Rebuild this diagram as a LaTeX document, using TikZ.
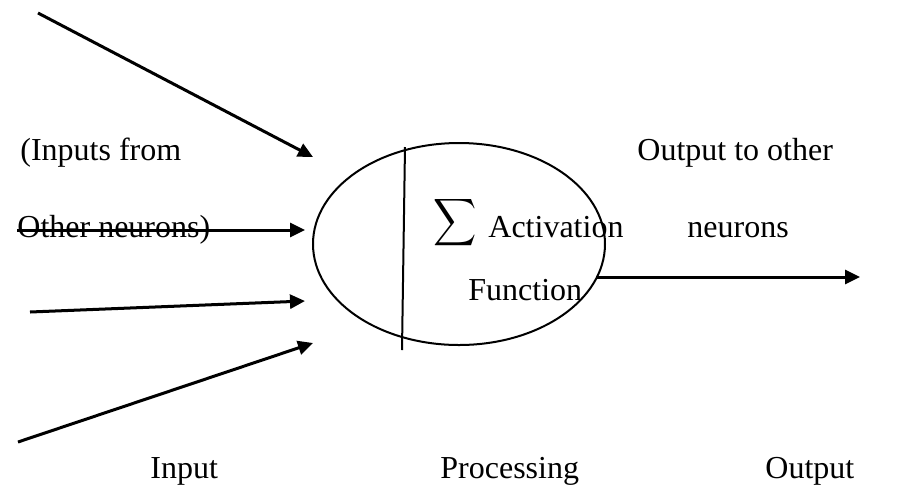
\documentclass[tikz,border=0pt]{standalone}
\usepackage{fontspec}
\setmainfont{Liberation Serif}
\usetikzlibrary{arrows.meta,shapes.geometric}

\tikzset{
  wire/.style={line width=1.5pt, -{Triangle[length=7.5pt,width=7pt]}},
  lbl/.style={anchor=base west, inner sep=0pt},
}

\begin{document}
\begin{tikzpicture}[x=0.5pt, y=-0.5pt, font=\fontsize{16}{19}\selectfont]
  \useasboundingbox (0,0) rectangle (902,495);

  %%%%% neuron body %%%%%
  \node[ellipse, draw, line width=1pt, minimum width=146pt, minimum height=101pt, inner sep=0pt] (cell) at (459,244) {};
  \coordinate (divtop) at (405,147);
  \coordinate (divbot) at (402,350);
  \draw[line width=1pt] (divtop) -- (divbot);

  \node[inner sep=0pt] (sigma) at (455,223) {\scalebox{1.5}[1.65]{$\displaystyle\sum$}};
  \node[lbl] (act) at (488,237) {Activation};
  \node[lbl] (func) at (468,300) {Function};

  %%%%% inputs %%%%%
  \node[lbl] (inA) at (20,160) {(Inputs from};
  \node[lbl] (inB) at (17,237) {Other neurons)};

  \coordinate (s1) at (38,13);   \coordinate (e1) at (313,157);
  \coordinate (s2) at (17,230);  \coordinate (e2) at (305,230);
  \coordinate (s3) at (30,312);  \coordinate (e3) at (305,301);
  \coordinate (s4) at (18,442);  \coordinate (e4) at (313,343);
  \draw[wire] (s1) -- (e1);
  \draw[wire] (s2) -- (e2);
  \draw[wire] (s3) -- (e3);
  \draw[wire] (s4) -- (e4);

  %%%%% output %%%%%
  \node[lbl] (outA) at (637,160) {Output to other};
  \node[lbl] (outB) at (687,237) {neurons};
  \coordinate (so) at (597,277); \coordinate (eo) at (860,277);
  \draw[wire] (so) -- (eo);

  %%%%% stage names %%%%%
  \node[lbl] (tIn) at (150,478) {Input};
  \node[lbl] (tProc) at (440,478) {Processing};
  \node[lbl] (tOut) at (765,478) {Output};
\end{tikzpicture}
\end{document}
